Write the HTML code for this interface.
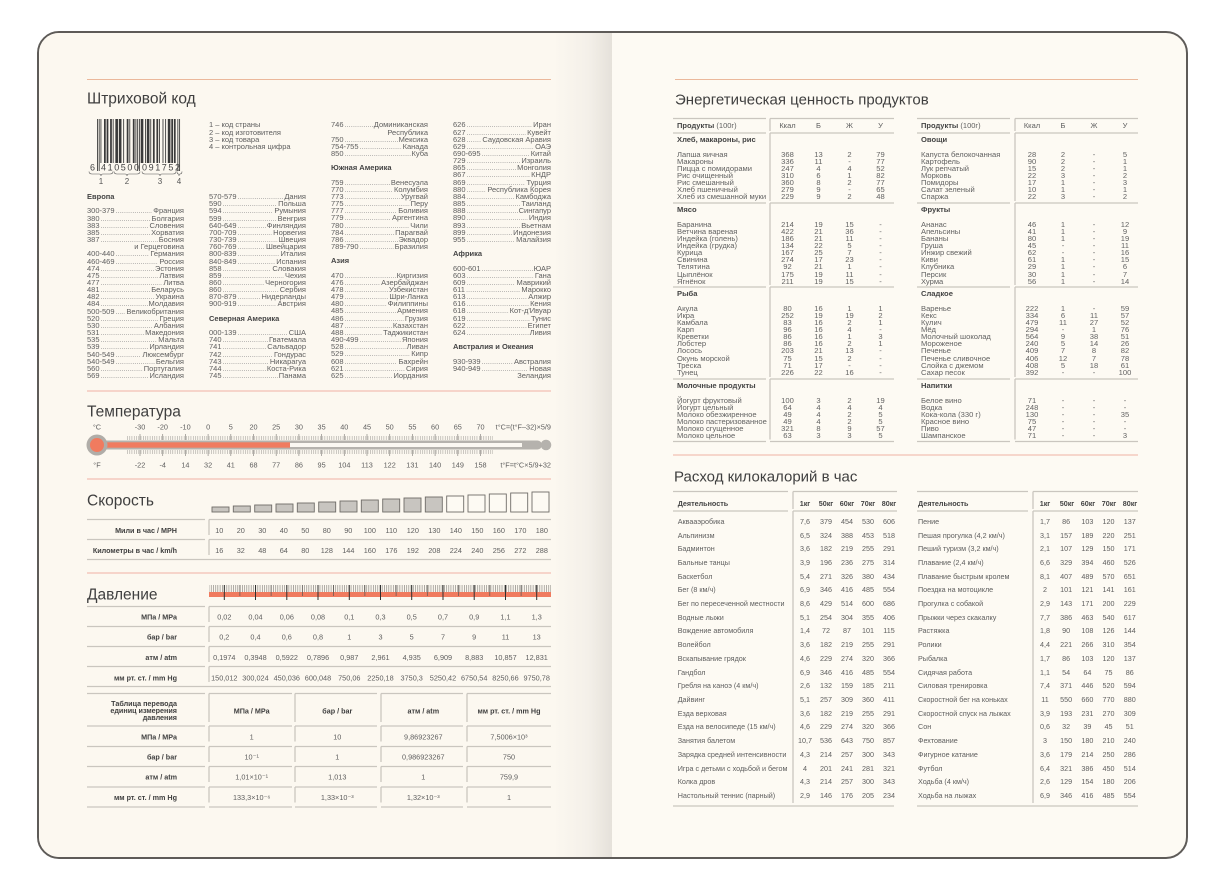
<!DOCTYPE html>
<html><head><meta charset="utf-8">
<style>
*{margin:0;padding:0;box-sizing:border-box}
html,body{width:1226px;height:890px;overflow:hidden;background:#fff}
body{position:relative;font-family:"Liberation Sans","DejaVu Sans",sans-serif;color:#5c5c5c}
.book{position:absolute;left:37px;top:31px;width:1151px;height:828px;border:2.5px solid #5e5b58;border-radius:22px;overflow:hidden;background:#fdfaf3}
.lp{position:absolute;left:0;top:0;width:573px;height:100%;background:linear-gradient(to right,#fcf8f0 0,#fcf8f0 514px,#f4f0e9 549px,#e5e1da 573px)}
.col{position:absolute;width:97px;font-size:7.5px;line-height:7.17px;color:#5e5e5e}
.col div{display:flex;height:7.17px;white-space:nowrap}
.col div i{flex:1;overflow:hidden;color:#8c8c8c;font-style:normal;margin:0 1px}
.col div i::before{content:"...................................................................................................."}
.col div.h{font-weight:bold;color:#444;margin:7.17px 0}
.col div.h.f{margin-top:0}
.col div.rt{justify-content:flex-end}
.et{position:absolute;font-size:7.6px;line-height:7.13px;color:#626262}
.et div{display:grid;grid-template-columns:95px 31px 31px 31px 31px;height:7.13px;white-space:nowrap}
.et.r div{grid-template-columns:95.5px 31px 31px 31px 31px}
.et div span{text-align:center}
.et div span:first-child{text-align:left}
.et div.t{font-weight:bold;color:#444;margin-bottom:7.13px;display:block}
.ct{position:absolute;top:514.85px;font-size:7.2px;color:#5e5e5e}
.ct div{display:grid;grid-template-columns:116.8px repeat(5,21px);height:13.71px;line-height:13.71px;white-space:nowrap}
.ct.r div{grid-template-columns:116.4px repeat(5,21.2px)}
.ct div span{text-align:center}
.ct div span:first-child{text-align:left}
.lg{position:absolute;left:209px;top:121.4px;font-size:7.5px;line-height:7.17px;color:#5e5e5e;white-space:nowrap}
</style></head><body>
<div class="book"><div class="lp"></div></div>

<svg width="1226" height="890" style="position:absolute;left:0;top:0" font-family="Liberation Sans, DejaVu Sans, sans-serif">
<defs>
<pattern id="tp" x="0" y="0" width="2.27" height="10" patternUnits="userSpaceOnUse"><rect x="0" y="0" width="0.55" height="10" fill="#a19e99"/></pattern>
<pattern id="rp" x="0" y="0" width="2.22" height="10" patternUnits="userSpaceOnUse"><rect x="0" y="0" width="0.6" height="10" fill="#7d7a75"/></pattern>
</defs>
<g stroke="#ebb89b" stroke-width="1">
<line x1="87" y1="79.5" x2="551" y2="79.5"/><line x1="675" y1="79.5" x2="1138" y2="79.5"/>
</g>
<g stroke="#f0b1a3" stroke-width="1">
<line x1="87" y1="391" x2="551" y2="391"/><line x1="87" y1="479" x2="551" y2="479"/><line x1="87" y1="573" x2="551" y2="573"/>
<line x1="673" y1="455" x2="1138" y2="455"/>
</g>
<g fill="#3f3f3f" font-size="15.5">
<text x="87" y="103.6">Штриховой код</text>
<text x="87" y="416.6">Температура</text>
<text x="87" y="505.6">Скорость</text>
<text x="87" y="599.6">Давление</text>
</g>
<g fill="#3f3f3f" font-size="15">
<text x="675" y="104.4">Энергетическая ценность продуктов</text>
<text x="674" y="481.4">Расход килокалорий в час</text>
</g>

<g fill="#3a3a3a" transform="translate(97,119) scale(0.874,1)">
<rect x="0" width="1" height="52"/><rect x="2" width="1" height="52"/>
<rect x="4" width="1" height="44"/><rect x="8" width="2" height="44"/><rect x="11" width="2" height="44"/><rect x="15" width="2" height="44"/><rect x="18" width="1" height="44"/><rect x="21" width="3" height="44"/><rect x="25" width="3" height="44"/><rect x="30" width="1" height="44"/><rect x="34" width="2" height="44"/><rect x="37" width="1" height="44"/><rect x="41" width="2" height="44"/><rect x="44" width="1" height="44"/>
<rect x="46" width="1" height="52"/><rect x="48" width="1" height="52"/>
<rect x="50" width="3" height="44"/><rect x="55" width="1" height="44"/><rect x="57" width="3" height="44"/><rect x="61" width="1" height="44"/><rect x="64" width="2" height="44"/><rect x="68" width="2" height="44"/><rect x="71" width="1" height="44"/><rect x="75" width="1" height="44"/><rect x="78" width="1" height="44"/><rect x="81" width="3" height="44"/><rect x="85" width="2" height="44"/><rect x="88" width="2" height="44"/>
<rect x="92" width="1" height="52"/><rect x="94" width="1" height="52"/>
</g>
<g fill="#444" font-size="9">
<text x="90" y="170.5">6</text>
<text x="101" y="170.5" textLength="38" lengthAdjust="spacing">410500</text>
<text x="142" y="170.5" textLength="38" lengthAdjust="spacing">091752</text>
</g>
<g fill="none" stroke="#555" stroke-width="0.6">
<path d="M89 171.5Q89 174 92 174H99Q101 174 101 176Q101 174 103 174H110Q113 174 113 171.5"/>
<path d="M114 171.5Q114 174 117 174H125Q127 174 127 176Q127 174 129 174H137Q140 174 140 171.5"/>
<path d="M142 171.5Q142 174 145 174H158Q160 174 160 176Q160 174 162 174H173Q176 174 176 171.5"/>
<path d="M177 171.5Q177 174 178.5 174Q179 174 179 176Q179 174 180 174Q182 174 182 171.5"/>
</g>
<g fill="#555" font-size="8" text-anchor="middle">
<text x="101" y="184">1</text><text x="127" y="184">2</text><text x="160" y="184">3</text><text x="179" y="184">4</text>
</g>

<g fill="#5e5e5e" font-size="7.3" text-anchor="middle">
<text x="97" y="429.6">°C</text>
<text x="140" y="429.6">-30</text><text x="162.7" y="429.6">-20</text><text x="185.4" y="429.6">-10</text><text x="208.1" y="429.6">0</text><text x="230.8" y="429.6">5</text><text x="253.5" y="429.6">20</text><text x="276.2" y="429.6">25</text><text x="298.9" y="429.6">30</text><text x="321.6" y="429.6">35</text><text x="344.3" y="429.6">40</text><text x="367" y="429.6">45</text><text x="389.7" y="429.6">50</text><text x="412.4" y="429.6">55</text><text x="435.1" y="429.6">60</text><text x="457.8" y="429.6">65</text><text x="480.5" y="429.6">70</text>
<text x="551" y="429.6" text-anchor="end">t°C=(t°F–32)×5/9</text>
<text x="97" y="467.6">°F</text>
<text x="140" y="467.6">-22</text><text x="162.7" y="467.6">-4</text><text x="185.4" y="467.6">14</text><text x="208.1" y="467.6">32</text><text x="230.8" y="467.6">41</text><text x="253.5" y="467.6">68</text><text x="276.2" y="467.6">77</text><text x="298.9" y="467.6">86</text><text x="321.6" y="467.6">95</text><text x="344.3" y="467.6">104</text><text x="367" y="467.6">113</text><text x="389.7" y="467.6">122</text><text x="412.4" y="467.6">131</text><text x="435.1" y="467.6">140</text><text x="457.8" y="467.6">149</text><text x="480.5" y="467.6">158</text>
<text x="551" y="467.6" text-anchor="end">t°F=t°C×5/9+32</text>
</g>
<rect x="127" y="436" width="366" height="4" fill="url(#tp)"/>
<rect x="127" y="450" width="366" height="4" fill="url(#tp)"/>
<g stroke="#8d8a85" stroke-width="0.7">
<path d="M140 434V440M162.7 434V440M185.4 434V440M208.1 434V440M230.8 434V440M253.5 434V440M276.2 434V440M298.9 434V440M321.6 434V440M344.3 434V440M367 434V440M389.7 434V440M412.4 434V440M435.1 434V440M457.8 434V440M480.5 434V440"/>
<path d="M140 450V456M162.7 450V456M185.4 450V456M208.1 450V456M230.8 450V456M253.5 450V456M276.2 450V456M298.9 450V456M321.6 450V456M344.3 450V456M367 450V456M389.7 450V456M412.4 450V456M435.1 450V456M457.8 450V456M480.5 450V456"/>
</g>
<rect x="97" y="440.5" width="445" height="9" rx="4.5" fill="#b5b2ad"/>
<circle cx="546" cy="445" r="5.3" fill="#b5b2ad"/>
<rect x="100" y="443" width="422" height="4" fill="#fbf8f2"/>
<rect x="97" y="442.3" width="193" height="5.4" fill="#f07b5f"/>
<circle cx="97" cy="445" r="10.5" fill="#b0ada8"/>
<circle cx="97" cy="445" r="7" fill="#f07b5f"/>

<g stroke="#6f6c68" stroke-width="0.9">
<g fill="#c8c5c0">
<rect x="212" y="507" width="17" height="5"/><rect x="233.3" y="506" width="17" height="6"/><rect x="254.7" y="505" width="17" height="7"/><rect x="276" y="504" width="17" height="8"/><rect x="297.3" y="503" width="17" height="9"/><rect x="318.7" y="502" width="17" height="10"/><rect x="340" y="501" width="17" height="11"/><rect x="361.3" y="500" width="17" height="12"/><rect x="382.7" y="499" width="17" height="13"/><rect x="404" y="498" width="17" height="14"/><rect x="425.3" y="497" width="17" height="15"/>
</g>
<g fill="#fdfaf3">
<rect x="446.7" y="496" width="17" height="16"/><rect x="468" y="495" width="17" height="17"/><rect x="489.3" y="494" width="17" height="18"/><rect x="510.7" y="493" width="17" height="19"/><rect x="532" y="492" width="17" height="20"/>
</g>
</g>
<g stroke="#cac6bf" stroke-width="1.3" fill="none">
<path d="M87 519.5H205M209 519.5H551M209 519.5V535M87 539.5H205M209 539.5H551M209 539.5V555M87 559.5H551"/>
<path d="M87 606.5H205M209 606.5H551M209 606.5V622M87 626.5H205M209 626.5H551M209 626.5V642M87 646.5H205M209 646.5H551M209 646.5V662M87 666.5H205M209 666.5H551M209 666.5V682M87 686.5H551"/>
<path d="M87 693.5H205M209 693.5H292M295 693.5H377M381 693.5H463M467 693.5H551M209 693.5V722M295 693.5V722M381 693.5V722M467 693.5V722"/>
<path d="M87 726H205M209 726H292M295 726H377M381 726H463M467 726H551M209 726V741.5M295 726V741.5M381 726V741.5M467 726V741.5"/>
<path d="M87 746.5H205M209 746.5H292M295 746.5H377M381 746.5H463M467 746.5H551M209 746.5V762M295 746.5V762M381 746.5V762M467 746.5V762"/>
<path d="M87 766.5H205M209 766.5H292M295 766.5H377M381 766.5H463M467 766.5H551M209 766.5V782M295 766.5V782M381 766.5V782M467 766.5V782"/>
<path d="M87 787H205M209 787H292M295 787H377M381 787H463M467 787H551M209 787V802.5M295 787V802.5M381 787V802.5M467 787V802.5"/>
<path d="M87 807H205M209 807H292M295 807H377M381 807H463M467 807H551"/>
<path d="M673 118.5H766M770 118.5H894M770 118.5V131M673 133H766M770 133H894M770 133V201M673 203H766M770 203H894M770 203V285M673 287H766M770 287H894M770 287V377M673 379H766M770 379H894M770 379V439.5M673 441.5H766M770 441.5H894"/>
<path d="M917 118.5H1010M1015 118.5H1138M1015 118.5V131M917 133H1010M1015 133H1138M1015 133V201M917 203H1010M1015 203H1138M1015 203V285M917 287H1010M1015 287H1138M1015 287V377M917 379H1010M1015 379H1138M1015 379V439.5M917 441.5H1010M1015 441.5H1138"/>
<path d="M673 491.5H788M793 491.5H897M793 491.5V509M673 511H788M793 511H897M793 511V803M673 806H894"/>
<path d="M917 491.5H1028M1033 491.5H1138M1033 491.5V509M917 511H1028M1033 511H1138M1033 511V803M917 806H1138"/>
</g>
<g fill="#3f3f3f" font-size="7.2" font-weight="bold" text-anchor="end">
<text x="177" y="532.9">Мили в час / MPH</text>
<text x="177" y="552.9">Километры в час / km/h</text>
<text x="177" y="619.3">МПа / MPa</text>
<text x="177" y="639.6">бар / bar</text>
<text x="177" y="659.9">атм / atm</text>
<text x="177" y="680.3">мм рт. ст. / mm Hg</text>
<text x="177" y="705.9">Таблица перевода</text>
<text x="177" y="712.9">единиц измерения</text>
<text x="177" y="719.9">давления</text>
<text x="177" y="739.3">МПа / MPa</text>
<text x="177" y="759.3">бар / bar</text>
<text x="177" y="779.6">атм / atm</text>
<text x="177" y="799.9">мм рт. ст. / mm Hg</text>
</g>
<g fill="#3f3f3f" font-size="7.2" font-weight="bold" text-anchor="middle">
<text x="251.7" y="713.3">МПа / MPa</text>
<text x="337.3" y="713.3">бар / bar</text>
<text x="423.3" y="713.3">атм / atm</text>
<text x="509" y="713.3">мм рт. ст. / mm Hg</text>
</g>
<g fill="#5e5e5e" font-size="7.3" text-anchor="middle">
<text y="532.9"><tspan x="219.3">10</tspan><tspan x="240.8">20</tspan><tspan x="262.3">30</tspan><tspan x="283.8">40</tspan><tspan x="305.3">50</tspan><tspan x="326.8">80</tspan><tspan x="348.3">90</tspan><tspan x="369.8">100</tspan><tspan x="391.3">110</tspan><tspan x="412.8">120</tspan><tspan x="434.3">130</tspan><tspan x="455.8">140</tspan><tspan x="477.3">150</tspan><tspan x="498.8">160</tspan><tspan x="520.3">170</tspan><tspan x="541.8">180</tspan></text>
<text y="552.9"><tspan x="219.3">16</tspan><tspan x="240.8">32</tspan><tspan x="262.3">48</tspan><tspan x="283.8">64</tspan><tspan x="305.3">80</tspan><tspan x="326.8">128</tspan><tspan x="348.3">144</tspan><tspan x="369.8">160</tspan><tspan x="391.3">176</tspan><tspan x="412.8">192</tspan><tspan x="434.3">208</tspan><tspan x="455.8">224</tspan><tspan x="477.3">240</tspan><tspan x="498.8">256</tspan><tspan x="520.3">272</tspan><tspan x="541.8">288</tspan></text>
<text y="619.3"><tspan x="224.3">0,02</tspan><tspan x="255.5">0,04</tspan><tspan x="286.8">0,06</tspan><tspan x="318">0,08</tspan><tspan x="349.3">0,1</tspan><tspan x="380.5">0,3</tspan><tspan x="411.7">0,5</tspan><tspan x="443">0,7</tspan><tspan x="474.2">0,9</tspan><tspan x="505.5">1,1</tspan><tspan x="536.7">1,3</tspan></text>
<text y="639.6"><tspan x="224.3">0,2</tspan><tspan x="255.5">0,4</tspan><tspan x="286.8">0,6</tspan><tspan x="318">0,8</tspan><tspan x="349.3">1</tspan><tspan x="380.5">3</tspan><tspan x="411.7">5</tspan><tspan x="443">7</tspan><tspan x="474.2">9</tspan><tspan x="505.5">11</tspan><tspan x="536.7">13</tspan></text>
<text y="659.9"><tspan x="224.3">0,1974</tspan><tspan x="255.5">0,3948</tspan><tspan x="286.8">0,5922</tspan><tspan x="318">0,7896</tspan><tspan x="349.3">0,987</tspan><tspan x="380.5">2,961</tspan><tspan x="411.7">4,935</tspan><tspan x="443">6,909</tspan><tspan x="474.2">8,883</tspan><tspan x="505.5">10,857</tspan><tspan x="536.7">12,831</tspan></text>
<text y="680.3"><tspan x="224.3">150,012</tspan><tspan x="255.5">300,024</tspan><tspan x="286.8">450,036</tspan><tspan x="318">600,048</tspan><tspan x="349.3">750,06</tspan><tspan x="380.5">2250,18</tspan><tspan x="411.7">3750,3</tspan><tspan x="443">5250,42</tspan><tspan x="474.2">6750,54</tspan><tspan x="505.5">8250,66</tspan><tspan x="536.7">9750,78</tspan></text>
<text y="739.3"><tspan x="251.7">1</tspan><tspan x="337.3">10</tspan><tspan x="423.3">9,86923267</tspan><tspan x="509">7,5006×10³</tspan></text>
<text y="759.3"><tspan x="251.7">10⁻¹</tspan><tspan x="337.3">1</tspan><tspan x="423.3">0,986923267</tspan><tspan x="509">750</tspan></text>
<text y="779.6"><tspan x="251.7">1,01×10⁻¹</tspan><tspan x="337.3">1,013</tspan><tspan x="423.3">1</tspan><tspan x="509">759,9</tspan></text>
<text y="799.9"><tspan x="251.7">133,3×10⁻⁶</tspan><tspan x="337.3">1,33×10⁻³</tspan><tspan x="423.3">1,32×10⁻³</tspan><tspan x="509">1</tspan></text>
</g>
<rect x="209" y="585" width="342" height="7.5" fill="url(#rp)"/>
<rect x="209" y="592" width="342" height="5" fill="#f07b5f"/>
<g stroke="#5a5753" stroke-width="0.7">
<path d="M239.9 585V596M271.1 585V596M302.4 585V596M333.6 585V596M364.9 585V596M396.1 585V596M427.3 585V596M458.6 585V596M489.8 585V596M521.1 585V596"/>
</g>
<g stroke="#2f2f2f" stroke-width="1">
<path d="M224.3 585V600M255.5 585V600M286.8 585V600M318 585V600M349.3 585V600M380.5 585V600M411.7 585V600M443 585V600M474.2 585V600M505.5 585V600M536.7 585V600"/>
</g>
<g fill="#5e5e5e" font-size="7.5">
<text x="677" y="128.2"><tspan font-weight="bold" fill="#444">Продукты</tspan> (100г)</text>
<text x="921" y="128.2"><tspan font-weight="bold" fill="#444">Продукты</tspan> (100г)</text>
<g text-anchor="middle">
<text x="787.5" y="128.2">Ккал</text><text x="818.5" y="128.2">Б</text><text x="849.5" y="128.2">Ж</text><text x="880.5" y="128.2">У</text>
<text x="1032" y="128.2">Ккал</text><text x="1063" y="128.2">Б</text><text x="1094" y="128.2">Ж</text><text x="1125" y="128.2">У</text>
</g>
</g>
<g fill="#444" font-size="7.2" font-weight="bold">
<text x="677.7" y="505.9">Деятельность</text>
<text x="918" y="505.9">Деятельность</text>
<g text-anchor="middle">
<text x="805" y="505.9">1кг</text><text x="826" y="505.9">50кг</text><text x="847" y="505.9">60кг</text><text x="868" y="505.9">70кг</text><text x="889" y="505.9">80кг</text>
<text x="1045" y="505.9">1кг</text><text x="1067" y="505.9">50кг</text><text x="1088" y="505.9">60кг</text><text x="1109" y="505.9">70кг</text><text x="1130" y="505.9">80кг</text>
</g>
</g>
</svg>

<div class="lg">1 – код страны<br>2 – код изготовителя<br>3 – код товара<br>4 – контрольная цифра</div>

<div class="col" style="left:87px;top:193.1px">
<div class="h f">Европа</div>
<div><span>300-379</span><i></i><span>Франция</span></div>
<div><span>380</span><i></i><span>Болгария</span></div>
<div><span>383</span><i></i><span>Словения</span></div>
<div><span>385</span><i></i><span>Хорватия</span></div>
<div><span>387</span><i></i><span>Босния</span></div>
<div class="rt">и Герцеговина</div>
<div><span>400-440</span><i></i><span>Германия</span></div>
<div><span>460-469</span><i></i><span>Россия</span></div>
<div><span>474</span><i></i><span>Эстония</span></div>
<div><span>475</span><i></i><span>Латвия</span></div>
<div><span>477</span><i></i><span>Литва</span></div>
<div><span>481</span><i></i><span>Беларусь</span></div>
<div><span>482</span><i></i><span>Украина</span></div>
<div><span>484</span><i></i><span>Молдавия</span></div>
<div><span>500-509</span><i></i><span>Великобритания</span></div>
<div><span>520</span><i></i><span>Греция</span></div>
<div><span>530</span><i></i><span>Албания</span></div>
<div><span>531</span><i></i><span>Македония</span></div>
<div><span>535</span><i></i><span>Мальта</span></div>
<div><span>539</span><i></i><span>Ирландия</span></div>
<div><span>540-549</span><i></i><span>Люксембург</span></div>
<div><span>540-549</span><i></i><span>Бельгия</span></div>
<div><span>560</span><i></i><span>Португалия</span></div>
<div><span>569</span><i></i><span>Исландия</span></div>
</div>

<div class="col" style="left:209px;top:193.1px">
<div><span>570-579</span><i></i><span>Дания</span></div>
<div><span>590</span><i></i><span>Польша</span></div>
<div><span>594</span><i></i><span>Румыния</span></div>
<div><span>599</span><i></i><span>Венгрия</span></div>
<div><span>640-649</span><i></i><span>Финляндия</span></div>
<div><span>700-709</span><i></i><span>Норвегия</span></div>
<div><span>730-739</span><i></i><span>Швеция</span></div>
<div><span>760-769</span><i></i><span>Швейцария</span></div>
<div><span>800-839</span><i></i><span>Италия</span></div>
<div><span>840-849</span><i></i><span>Испания</span></div>
<div><span>858</span><i></i><span>Словакия</span></div>
<div><span>859</span><i></i><span>Чехия</span></div>
<div><span>860</span><i></i><span>Черногория</span></div>
<div><span>860</span><i></i><span>Сербия</span></div>
<div><span>870-879</span><i></i><span>Нидерланды</span></div>
<div><span>900-919</span><i></i><span>Австрия</span></div>
<div class="h">Северная Америка</div>
<div><span>000-139</span><i></i><span>США</span></div>
<div><span>740</span><i></i><span>Гватемала</span></div>
<div><span>741</span><i></i><span>Сальвадор</span></div>
<div><span>742</span><i></i><span>Гондурас</span></div>
<div><span>743</span><i></i><span>Никарагуа</span></div>
<div><span>744</span><i></i><span>Коста-Рика</span></div>
<div><span>745</span><i></i><span>Панама</span></div>
</div>

<div class="col" style="left:331px;top:121.4px">
<div><span>746</span><i></i><span>Доминиканская</span></div>
<div class="rt">Республика</div>
<div><span>750</span><i></i><span>Мексика</span></div>
<div><span>754-755</span><i></i><span>Канада</span></div>
<div><span>850</span><i></i><span>Куба</span></div>
<div class="h">Южная Америка</div>
<div><span>759</span><i></i><span>Венесуэла</span></div>
<div><span>770</span><i></i><span>Колумбия</span></div>
<div><span>773</span><i></i><span>Уругвай</span></div>
<div><span>775</span><i></i><span>Перу</span></div>
<div><span>777</span><i></i><span>Боливия</span></div>
<div><span>779</span><i></i><span>Аргентина</span></div>
<div><span>780</span><i></i><span>Чили</span></div>
<div><span>784</span><i></i><span>Парагвай</span></div>
<div><span>786</span><i></i><span>Эквадор</span></div>
<div><span>789-790</span><i></i><span>Бразилия</span></div>
<div class="h">Азия</div>
<div><span>470</span><i></i><span>Киргизия</span></div>
<div><span>476</span><i></i><span>Азербайджан</span></div>
<div><span>478</span><i></i><span>Узбекистан</span></div>
<div><span>479</span><i></i><span>Шри-Ланка</span></div>
<div><span>480</span><i></i><span>Филиппины</span></div>
<div><span>485</span><i></i><span>Армения</span></div>
<div><span>486</span><i></i><span>Грузия</span></div>
<div><span>487</span><i></i><span>Казахстан</span></div>
<div><span>488</span><i></i><span>Таджикистан</span></div>
<div><span>490-499</span><i></i><span>Япония</span></div>
<div><span>528</span><i></i><span>Ливан</span></div>
<div><span>529</span><i></i><span>Кипр</span></div>
<div><span>608</span><i></i><span>Бахрейн</span></div>
<div><span>621</span><i></i><span>Сирия</span></div>
<div><span>625</span><i></i><span>Иордания</span></div>
</div>

<div class="col" style="left:453px;top:121.4px;width:98px">
<div><span>626</span><i></i><span>Иран</span></div>
<div><span>627</span><i></i><span>Кувейт</span></div>
<div><span>628</span><i></i><span>Саудовская Аравия</span></div>
<div><span>629</span><i></i><span>ОАЭ</span></div>
<div><span>690-695</span><i></i><span>Китай</span></div>
<div><span>729</span><i></i><span>Израиль</span></div>
<div><span>865</span><i></i><span>Монголия</span></div>
<div><span>867</span><i></i><span>КНДР</span></div>
<div><span>869</span><i></i><span>Турция</span></div>
<div><span>880</span><i></i><span>Республика Корея</span></div>
<div><span>884</span><i></i><span>Камбоджа</span></div>
<div><span>885</span><i></i><span>Таиланд</span></div>
<div><span>888</span><i></i><span>Сингапур</span></div>
<div><span>890</span><i></i><span>Индия</span></div>
<div><span>893</span><i></i><span>Вьетнам</span></div>
<div><span>899</span><i></i><span>Индонезия</span></div>
<div><span>955</span><i></i><span>Малайзия</span></div>
<div class="h">Африка</div>
<div><span>600-601</span><i></i><span>ЮАР</span></div>
<div><span>603</span><i></i><span>Гана</span></div>
<div><span>609</span><i></i><span>Маврикий</span></div>
<div><span>611</span><i></i><span>Марокко</span></div>
<div><span>613</span><i></i><span>Алжир</span></div>
<div><span>616</span><i></i><span>Кения</span></div>
<div><span>618</span><i></i><span>Кот-д'Ивуар</span></div>
<div><span>619</span><i></i><span>Тунис</span></div>
<div><span>622</span><i></i><span>Египет</span></div>
<div><span>624</span><i></i><span>Ливия</span></div>
<div class="h">Австралия и Океания</div>
<div><span>930-939</span><i></i><span>Австралия</span></div>
<div><span>940-949</span><i></i><span>Новая</span></div>
<div class="rt">Зеландия</div>
</div>

<div class="et" style="left:677px;top:136.4px">
<div class="t">Хлеб, макароны, рис</div>
<div><span>Лапша яичная</span><span>368</span><span>13</span><span>2</span><span>79</span></div>
<div><span>Макароны</span><span>336</span><span>11</span><span>-</span><span>77</span></div>
<div><span>Пицца с помидорами</span><span>247</span><span>4</span><span>4</span><span>52</span></div>
<div><span>Рис очищенный</span><span>310</span><span>6</span><span>1</span><span>82</span></div>
<div><span>Рис смешанный</span><span>360</span><span>8</span><span>2</span><span>77</span></div>
<div><span>Хлеб пшеничный</span><span>279</span><span>9</span><span>-</span><span>65</span></div>
<div><span>Хлеб из смешанной муки</span><span>229</span><span>9</span><span>2</span><span>48</span></div>
</div>
<div class="et" style="left:677px;top:206.4px">
<div class="t">Мясо</div>
<div><span>Баранина</span><span>214</span><span>19</span><span>15</span><span>-</span></div>
<div><span>Ветчина вареная</span><span>422</span><span>21</span><span>36</span><span>-</span></div>
<div><span>Индейка (голень)</span><span>186</span><span>21</span><span>11</span><span>-</span></div>
<div><span>Индейка (грудка)</span><span>134</span><span>22</span><span>5</span><span>-</span></div>
<div><span>Курица</span><span>167</span><span>25</span><span>7</span><span>-</span></div>
<div><span>Свинина</span><span>274</span><span>17</span><span>23</span><span>-</span></div>
<div><span>Телятина</span><span>92</span><span>21</span><span>1</span><span>-</span></div>
<div><span>Цыплёнок</span><span>175</span><span>19</span><span>11</span><span>-</span></div>
<div><span>Ягнёнок</span><span>211</span><span>19</span><span>15</span><span>-</span></div>
</div>
<div class="et" style="left:677px;top:290.4px">
<div class="t">Рыба</div>
<div><span>Акула</span><span>80</span><span>16</span><span>1</span><span>1</span></div>
<div><span>Икра</span><span>252</span><span>19</span><span>19</span><span>2</span></div>
<div><span>Камбала</span><span>83</span><span>16</span><span>2</span><span>1</span></div>
<div><span>Карп</span><span>96</span><span>16</span><span>4</span><span>-</span></div>
<div><span>Креветки</span><span>86</span><span>16</span><span>1</span><span>3</span></div>
<div><span>Лобстер</span><span>86</span><span>16</span><span>2</span><span>1</span></div>
<div><span>Лосось</span><span>203</span><span>21</span><span>13</span><span>-</span></div>
<div><span>Окунь морской</span><span>75</span><span>15</span><span>2</span><span>-</span></div>
<div><span>Треска</span><span>71</span><span>17</span><span>-</span><span>-</span></div>
<div><span>Тунец</span><span>226</span><span>22</span><span>16</span><span>-</span></div>
</div>
<div class="et" style="left:677px;top:382.4px">
<div class="t">Молочные продукты</div>
<div><span>Йогурт фруктовый</span><span>100</span><span>3</span><span>2</span><span>19</span></div>
<div><span>Йогурт цельный</span><span>64</span><span>4</span><span>4</span><span>4</span></div>
<div><span>Молоко обезжиренное</span><span>49</span><span>4</span><span>2</span><span>5</span></div>
<div><span>Молоко пастеризованное</span><span>49</span><span>4</span><span>2</span><span>5</span></div>
<div><span>Молоко сгущенное</span><span>321</span><span>8</span><span>9</span><span>57</span></div>
<div><span>Молоко цельное</span><span>63</span><span>3</span><span>3</span><span>5</span></div>
</div>

<div class="et r" style="left:921px;top:136.4px">
<div class="t">Овощи</div>
<div><span>Капуста белокочанная</span><span>28</span><span>2</span><span>-</span><span>5</span></div>
<div><span>Картофель</span><span>90</span><span>2</span><span>-</span><span>1</span></div>
<div><span>Лук репчатый</span><span>15</span><span>2</span><span>-</span><span>1</span></div>
<div><span>Морковь</span><span>22</span><span>3</span><span>-</span><span>2</span></div>
<div><span>Помидоры</span><span>17</span><span>1</span><span>-</span><span>3</span></div>
<div><span>Салат зеленый</span><span>10</span><span>1</span><span>-</span><span>1</span></div>
<div><span>Спаржа</span><span>22</span><span>3</span><span>-</span><span>2</span></div>
</div>
<div class="et r" style="left:921px;top:206.4px">
<div class="t">Фрукты</div>
<div><span>Ананас</span><span>46</span><span>1</span><span>-</span><span>12</span></div>
<div><span>Апельсины</span><span>41</span><span>1</span><span>-</span><span>9</span></div>
<div><span>Бананы</span><span>80</span><span>1</span><span>-</span><span>19</span></div>
<div><span>Груша</span><span>45</span><span>-</span><span>-</span><span>11</span></div>
<div><span>Инжир свежий</span><span>62</span><span>-</span><span>-</span><span>16</span></div>
<div><span>Киви</span><span>61</span><span>1</span><span>-</span><span>15</span></div>
<div><span>Клубника</span><span>29</span><span>1</span><span>-</span><span>6</span></div>
<div><span>Персик</span><span>30</span><span>1</span><span>-</span><span>7</span></div>
<div><span>Хурма</span><span>56</span><span>1</span><span>-</span><span>14</span></div>
</div>
<div class="et r" style="left:921px;top:290.4px">
<div class="t">Сладкое</div>
<div><span>Варенье</span><span>222</span><span>1</span><span>-</span><span>59</span></div>
<div><span>Кекс</span><span>334</span><span>6</span><span>11</span><span>57</span></div>
<div><span>Кулич</span><span>479</span><span>11</span><span>27</span><span>52</span></div>
<div><span>Мёд</span><span>294</span><span>-</span><span>1</span><span>76</span></div>
<div><span>Молочный шоколад</span><span>564</span><span>9</span><span>38</span><span>51</span></div>
<div><span>Мороженое</span><span>240</span><span>5</span><span>14</span><span>26</span></div>
<div><span>Печенье</span><span>409</span><span>7</span><span>8</span><span>82</span></div>
<div><span>Печенье сливочное</span><span>406</span><span>12</span><span>7</span><span>78</span></div>
<div><span>Слойка с джемом</span><span>408</span><span>5</span><span>18</span><span>61</span></div>
<div><span>Сахар песок</span><span>392</span><span>-</span><span>-</span><span>100</span></div>
</div>
<div class="et r" style="left:921px;top:382.4px">
<div class="t">Напитки</div>
<div><span>Белое вино</span><span>71</span><span>-</span><span>-</span><span>-</span></div>
<div><span>Водка</span><span>248</span><span>-</span><span>-</span><span>-</span></div>
<div><span>Кока-кола (330 г)</span><span>130</span><span>-</span><span>-</span><span>35</span></div>
<div><span>Красное вино</span><span>75</span><span>-</span><span>-</span><span>-</span></div>
<div><span>Пиво</span><span>47</span><span>-</span><span>-</span><span>-</span></div>
<div><span>Шампанское</span><span>71</span><span>-</span><span>-</span><span>3</span></div>
</div>

<div class="ct" style="left:677.7px">
<div><span>Аквааэробика</span><span>7,6</span><span>379</span><span>454</span><span>530</span><span>606</span></div>
<div><span>Альпинизм</span><span>6,5</span><span>324</span><span>388</span><span>453</span><span>518</span></div>
<div><span>Бадминтон</span><span>3,6</span><span>182</span><span>219</span><span>255</span><span>291</span></div>
<div><span>Бальные танцы</span><span>3,9</span><span>196</span><span>236</span><span>275</span><span>314</span></div>
<div><span>Баскетбол</span><span>5,4</span><span>271</span><span>326</span><span>380</span><span>434</span></div>
<div><span>Бег (8 км/ч)</span><span>6,9</span><span>346</span><span>416</span><span>485</span><span>554</span></div>
<div><span>Бег по пересеченной местности</span><span>8,6</span><span>429</span><span>514</span><span>600</span><span>686</span></div>
<div><span>Водные лыжи</span><span>5,1</span><span>254</span><span>304</span><span>355</span><span>406</span></div>
<div><span>Вождение автомобиля</span><span>1,4</span><span>72</span><span>87</span><span>101</span><span>115</span></div>
<div><span>Волейбол</span><span>3,6</span><span>182</span><span>219</span><span>255</span><span>291</span></div>
<div><span>Вскапывание грядок</span><span>4,6</span><span>229</span><span>274</span><span>320</span><span>366</span></div>
<div><span>Гандбол</span><span>6,9</span><span>346</span><span>416</span><span>485</span><span>554</span></div>
<div><span>Гребля на каноэ (4 км/ч)</span><span>2,6</span><span>132</span><span>159</span><span>185</span><span>211</span></div>
<div><span>Дайвинг</span><span>5,1</span><span>257</span><span>309</span><span>360</span><span>411</span></div>
<div><span>Езда верховая</span><span>3,6</span><span>182</span><span>219</span><span>255</span><span>291</span></div>
<div><span>Езда на велосипеде (15 км/ч)</span><span>4,6</span><span>229</span><span>274</span><span>320</span><span>366</span></div>
<div><span>Занятия балетом</span><span>10,7</span><span>536</span><span>643</span><span>750</span><span>857</span></div>
<div><span>Зарядка средней интенсивности</span><span>4,3</span><span>214</span><span>257</span><span>300</span><span>343</span></div>
<div><span>Игра с детьми с ходьбой и бегом</span><span>4</span><span>201</span><span>241</span><span>281</span><span>321</span></div>
<div><span>Колка дров</span><span>4,3</span><span>214</span><span>257</span><span>300</span><span>343</span></div>
<div><span>Настольный теннис (парный)</span><span>2,9</span><span>146</span><span>176</span><span>205</span><span>234</span></div>
</div>
<div class="ct r" style="left:918px">
<div><span>Пение</span><span>1,7</span><span>86</span><span>103</span><span>120</span><span>137</span></div>
<div><span>Пешая прогулка (4,2 км/ч)</span><span>3,1</span><span>157</span><span>189</span><span>220</span><span>251</span></div>
<div><span>Пеший туризм (3,2 км/ч)</span><span>2,1</span><span>107</span><span>129</span><span>150</span><span>171</span></div>
<div><span>Плавание (2,4 км/ч)</span><span>6,6</span><span>329</span><span>394</span><span>460</span><span>526</span></div>
<div><span>Плавание быстрым кролем</span><span>8,1</span><span>407</span><span>489</span><span>570</span><span>651</span></div>
<div><span>Поездка на мотоцикле</span><span>2</span><span>101</span><span>121</span><span>141</span><span>161</span></div>
<div><span>Прогулка с собакой</span><span>2,9</span><span>143</span><span>171</span><span>200</span><span>229</span></div>
<div><span>Прыжки через скакалку</span><span>7,7</span><span>386</span><span>463</span><span>540</span><span>617</span></div>
<div><span>Растяжка</span><span>1,8</span><span>90</span><span>108</span><span>126</span><span>144</span></div>
<div><span>Ролики</span><span>4,4</span><span>221</span><span>266</span><span>310</span><span>354</span></div>
<div><span>Рыбалка</span><span>1,7</span><span>86</span><span>103</span><span>120</span><span>137</span></div>
<div><span>Сидячая работа</span><span>1,1</span><span>54</span><span>64</span><span>75</span><span>86</span></div>
<div><span>Силовая тренировка</span><span>7,4</span><span>371</span><span>446</span><span>520</span><span>594</span></div>
<div><span>Скоростной бег на коньках</span><span>11</span><span>550</span><span>660</span><span>770</span><span>880</span></div>
<div><span>Скоростной спуск на лыжах</span><span>3,9</span><span>193</span><span>231</span><span>270</span><span>309</span></div>
<div><span>Сон</span><span>0,6</span><span>32</span><span>39</span><span>45</span><span>51</span></div>
<div><span>Фехтование</span><span>3</span><span>150</span><span>180</span><span>210</span><span>240</span></div>
<div><span>Фигурное катание</span><span>3,6</span><span>179</span><span>214</span><span>250</span><span>286</span></div>
<div><span>Футбол</span><span>6,4</span><span>321</span><span>386</span><span>450</span><span>514</span></div>
<div><span>Ходьба (4 км/ч)</span><span>2,6</span><span>129</span><span>154</span><span>180</span><span>206</span></div>
<div><span>Ходьба на лыжах</span><span>6,9</span><span>346</span><span>416</span><span>485</span><span>554</span></div>
</div>
</body></html>
